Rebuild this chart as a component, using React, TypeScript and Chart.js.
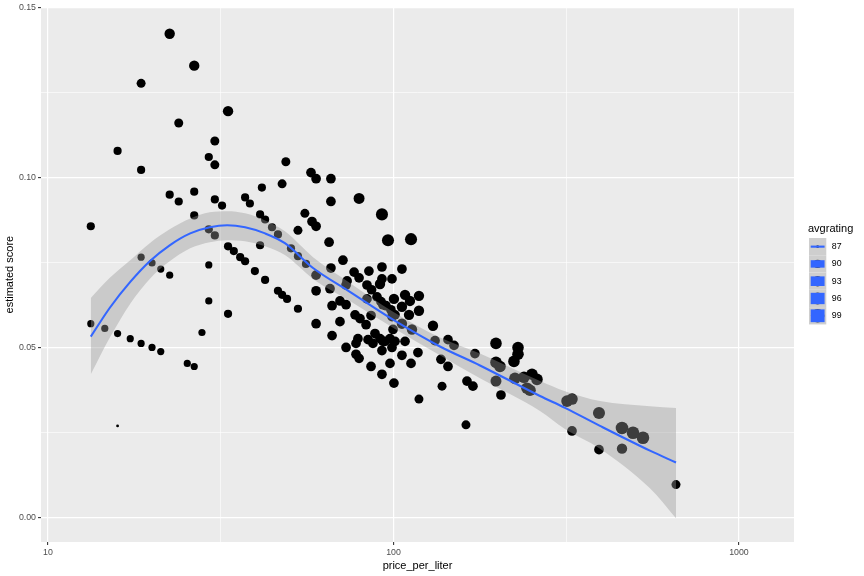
import React, { useEffect, useRef } from 'react';
import { Chart, registerables } from 'chart.js';

Chart.register(...registerables);

// ---------- data ----------
const price: number[] = [
  22.5, 26.5, 18.6, 33.2, 23.9, 30.4, 15.9, 29.2, 30.4, 18.6,
  48.8, 57.7, 59.7, 65.9, 47.6, 22.5, 23.9, 26.5, 30.4, 31.9,
  37.2, 38.4, 41.6, 65.9, 79.5, 92.6, 55.4, 58.1, 59.7, 52.9,
  13.3, 26.5, 29.2, 30.4, 41.1, 42.5, 44.5, 46.3, 41.1, 50.5,
  52.9, 55.8, 18.6, 20.0, 21.2, 22.5, 29.2, 33.2, 34.5, 36.0,
  37.2, 39.7, 42.5, 46.3, 47.6, 49.2, 52.9, 29.2, 33.2, 13.3,
  14.6, 15.9, 17.3, 18.6, 20.0, 21.2, 27.9, 25.3, 26.5, 15.9,
  65.1, 96.4, 112.4, 71.4, 65.9, 76.9, 79.5, 84.9, 92.6, 105.8,
  92.6, 99.0, 59.7, 73.4, 59.7, 65.5, 66.4, 70.0, 72.9, 72.9,
  59.7, 70.0, 66.4, 77.4, 80.0, 83.3, 86.1, 83.8, 83.8, 86.4,
  91.4, 89.6, 92.0, 95.1, 98.3, 101.0, 100.3, 108.0, 111.6, 118.5,
  105.8, 110.9, 118.5, 105.8, 113.1, 108.0, 99.7, 97.7, 101.0, 94.5,
  91.4, 88.4, 84.4, 78.9, 77.9, 72.9, 87.2, 92.6, 99.0, 77.9,
  79.5, 86.1, 97.7, 105.8, 112.4, 117.7, 92.6, 100.3, 118.5, 130.1,
  131.9, 138.2, 143.8, 149.7, 137.2, 143.8, 163.2, 169.8, 172.1, 162.1,
  198.0, 198.0, 203.4, 198.0, 204.7, 229.3, 229.3, 223.2, 224.7, 238.6,
  251.7, 260.2, 243.4, 248.4, 317.9, 328.6, 328.6, 393.4, 393.4, 458.6,
  458.6, 493.5, 527.4, 657.2, 93.2, 99.0, 93.2,
];

const score: number[] = [
  0.1424, 0.1330, 0.1278, 0.1196, 0.1161, 0.1108, 0.1079, 0.1061, 0.1038, 0.1023,
  0.1047, 0.1015, 0.0997, 0.0997, 0.0982, 0.0950, 0.0930, 0.0959, 0.0936, 0.0918,
  0.0942, 0.0924, 0.0971, 0.0930, 0.0939, 0.0892, 0.0895, 0.0871, 0.0857, 0.0845,
  0.0857, 0.0889, 0.0848, 0.0830, 0.0892, 0.0877, 0.0854, 0.0833, 0.0801, 0.0792,
  0.0769, 0.0746, 0.0766, 0.0749, 0.0731, 0.0713, 0.0743, 0.0798, 0.0784, 0.0766,
  0.0754, 0.0725, 0.0699, 0.0667, 0.0655, 0.0643, 0.0614, 0.0637, 0.0599, 0.0570,
  0.0556, 0.0541, 0.0526, 0.0512, 0.0500, 0.0488, 0.0544, 0.0453, 0.0444, 0.0269,
  0.0810, 0.0816, 0.0819, 0.0757, 0.0734, 0.0722, 0.0705, 0.0725, 0.0737, 0.0731,
  0.0702, 0.0702, 0.0713, 0.0696, 0.0667, 0.0673, 0.0623, 0.0637, 0.0626, 0.0684,
  0.0570, 0.0576, 0.0535, 0.0596, 0.0585, 0.0567, 0.0594, 0.0643, 0.0684, 0.0670,
  0.0687, 0.0649, 0.0635, 0.0623, 0.0611, 0.0596, 0.0643, 0.0655, 0.0637, 0.0652,
  0.0620, 0.0596, 0.0608, 0.0570, 0.0553, 0.0518, 0.0553, 0.0526, 0.0518, 0.0518,
  0.0526, 0.0541, 0.0523, 0.0526, 0.0512, 0.0500, 0.0512, 0.0491, 0.0500, 0.0480,
  0.0468, 0.0444, 0.0453, 0.0477, 0.0453, 0.0485, 0.0421, 0.0395, 0.0348, 0.0564,
  0.0520, 0.0386, 0.0523, 0.0506, 0.0465, 0.0444, 0.0401, 0.0386, 0.0482, 0.0272,
  0.0512, 0.0456, 0.0444, 0.0401, 0.0360, 0.0500, 0.0480, 0.0459, 0.0409, 0.0412,
  0.0421, 0.0406, 0.0380, 0.0374, 0.0342, 0.0348, 0.0254, 0.0307, 0.0199, 0.0202,
  0.0263, 0.0249, 0.0234, 0.0096, 0.0626, 0.0591, 0.0518,
];

const avgrating: number[] = [
  93, 93, 91, 93, 91, 91, 90, 90, 91, 90,
  91, 92, 92, 92, 91, 90, 90, 90, 90, 90,
  90, 90, 90, 92, 94, 96, 91, 92, 92, 91,
  90, 90, 90, 90, 90, 90, 90, 90, 90, 90,
  90, 90, 89, 89, 89, 89, 89, 90, 90, 90,
  90, 90, 90, 90, 90, 90, 90, 89, 90, 89,
  89, 89, 89, 89, 89, 89, 89, 89, 89, 87,
  92, 96, 96, 92, 92, 92, 92, 92, 92, 92,
  92, 92, 92, 92, 92, 92, 92, 92, 92, 92,
  92, 92, 92, 92, 92, 92, 92, 92, 92, 92,
  93, 92, 92, 92, 92, 92, 93, 93, 93, 93,
  93, 93, 93, 93, 93, 92, 92, 92, 92, 92,
  92, 92, 92, 92, 92, 92, 92, 92, 92, 92,
  92, 92, 92, 92, 92, 92, 92, 92, 91, 93,
  92, 91, 92, 92, 92, 92, 92, 92, 92, 91,
  95, 95, 95, 94, 92, 95, 95, 95, 95, 95,
  95, 95, 95, 95, 95, 95, 92, 96, 92, 93,
  97, 97, 97, 91, 92, 92, 92,
];

// smoother (fit and confidence band)
const smoothPrice: number[] = [13.3, 15.1, 17.3, 19.7, 22.5, 25.8, 29.4, 33.0, 37.2, 42.5, 48.5, 58.5, 74.8, 99.7, 136.3, 178.0, 265.5, 313.6, 396.0, 552.5, 657.2];
const smoothFit: number[] = [0.0532, 0.0617, 0.0693, 0.0754, 0.0801, 0.0836, 0.0854, 0.0860, 0.0854, 0.0836, 0.0807, 0.0734, 0.0664, 0.0582, 0.0503, 0.0447, 0.0357, 0.0322, 0.0269, 0.0196, 0.0161];
const smoothHi: number[] = [0.0646, 0.0705, 0.0757, 0.0807, 0.0848, 0.0880, 0.0898, 0.0901, 0.0895, 0.0874, 0.0842, 0.0766, 0.0690, 0.0605, 0.0529, 0.0482, 0.0401, 0.0371, 0.0342, 0.0327, 0.0322];
const smoothLo: number[] = [0.0421, 0.0529, 0.0629, 0.0702, 0.0754, 0.0792, 0.0810, 0.0816, 0.0813, 0.0798, 0.0772, 0.0702, 0.0637, 0.0558, 0.0477, 0.0409, 0.0313, 0.0260, 0.0202, 0.0085, -0.0003];

// axes
const yGridValues: number[] = [0, 0.025, 0.05, 0.075, 0.1, 0.125, 0.15];
const yLabelValues: number[] = [0, 0.05, 0.1, 0.15];
const xGridValues: number[] = [10, 31.6228, 100, 316.228, 1000];
const xLabelValues: number[] = [10, 100, 1000];
const legendBreaks: number[] = [87, 90, 93, 96, 99];
const ratingDomain: number[] = [87, 99];

const FONT = "'Liberation Sans', Arial, Helvetica, sans-serif";

const sizeOf = (v: number) => {
  const t = Math.max(0, Math.min(1, (v - ratingDomain[0]) / (ratingDomain[1] - ratingDomain[0])));
  return 1 + 5 * Math.sqrt(t);
};
const radiusOf = (v: number) => 1.067 * sizeOf(v) + 0.354;
const lineWidthOf = (v: number) => 2.13 * sizeOf(v);

const isOn = (v: number, list: number[]) => list.some((u) => Math.abs(u - v) / Math.max(1e-9, Math.abs(u) || 1) < 1e-4 || Math.abs(u - v) < 1e-9);

const panelBg = {
  id: 'panelBg',
  beforeDraw(chart: any) {
    const { ctx, chartArea } = chart;
    ctx.save();
    ctx.fillStyle = '#EBEBEB';
    ctx.fillRect(chartArea.left, chartArea.top, chartArea.right - chartArea.left, chartArea.bottom - chartArea.top);
    ctx.restore();
  },
};

const sizeLegend = {
  id: 'sizeLegend',
  afterDraw(chart: any) {
    const { ctx } = chart;
    const x0 = 809;
    const y0 = 238;
    const k = 17.28;
    ctx.save();
    ctx.fillStyle = '#000000';
    ctx.font = `11px ${FONT}`;
    ctx.textBaseline = 'middle';
    ctx.textAlign = 'left';
    ctx.fillText('avgrating', 808, 229);
    legendBreaks.forEach((b, i) => {
      const top = y0 + i * k;
      const cy = top + k / 2;
      const cx = x0 + k / 2;
      ctx.fillStyle = '#F2F2F2';
      ctx.fillRect(x0, top, k, k);
      ctx.fillStyle = '#000000';
      ctx.beginPath();
      ctx.arc(cx, cy, radiusOf(b), 0, Math.PI * 2);
      ctx.fill();
      ctx.fillStyle = 'rgba(153,153,153,0.4)';
      ctx.fillRect(x0, top, k, k);
      ctx.strokeStyle = '#3366FF';
      ctx.lineWidth = lineWidthOf(b);
      ctx.lineCap = 'butt';
      ctx.beginPath();
      ctx.moveTo(x0 + 1.7, cy);
      ctx.lineTo(x0 + k - 1.7, cy);
      ctx.stroke();
      ctx.fillStyle = '#000000';
      ctx.font = `8.8px ${FONT}`;
      ctx.fillText(String(b), x0 + k + 5.5, cy);
    });
    ctx.restore();
  },
};

export default function App() {
  const ref = useRef<HTMLCanvasElement | null>(null);

  useEffect(() => {
    if (!ref.current) return;
    const xMajor = (v: number) => Math.abs(Math.log10(v) - Math.round(Math.log10(v))) < 1e-6;
    const yMajor = (v: number) => isOn(v, yLabelValues);

    const chart = new Chart(ref.current, {
      type: 'scatter',
      data: {
        datasets: [
          {
            type: 'line',
            label: 'fit',
            data: smoothPrice.map((x, i) => ({ x, y: smoothFit[i] })),
            borderColor: '#3366FF',
            borderWidth: 2.1,
            pointRadius: 0,
            fill: false,
            showLine: true,
            cubicInterpolationMode: 'monotone',
            order: 0,
          },
          {
            type: 'line',
            label: 'lower',
            data: smoothPrice.map((x, i) => ({ x, y: smoothLo[i] })),
            borderColor: 'rgba(0,0,0,0)',
            borderWidth: 0,
            pointRadius: 0,
            fill: false,
            showLine: true,
            cubicInterpolationMode: 'monotone',
            order: 1,
          },
          {
            type: 'line',
            label: 'upper',
            data: smoothPrice.map((x, i) => ({ x, y: smoothHi[i] })),
            borderColor: 'rgba(0,0,0,0)',
            backgroundColor: 'rgba(153,153,153,0.4)',
            borderWidth: 0,
            pointRadius: 0,
            fill: 1,
            showLine: true,
            cubicInterpolationMode: 'monotone',
            order: 1,
          },
          {
            type: 'scatter',
            label: 'points',
            data: price.map((x, i) => ({ x, y: score[i] })),
            pointRadius: (c: any) => radiusOf(avgrating[c.dataIndex]),
            pointBackgroundColor: '#000000',
            pointBorderColor: '#000000',
            pointBorderWidth: 0,
            order: 2,
          },
        ] as any,
      },
      options: {
        responsive: false,
        maintainAspectRatio: false,
        animation: false,
        devicePixelRatio: 1,
        events: [],
        layout: { padding: { left: 0, right: 70, top: 5, bottom: 0 } },
        plugins: { legend: { display: false }, tooltip: { enabled: false } },
        scales: {
          x: {
            type: 'logarithmic',
            position: 'bottom',
            min: 9.544,
            max: 1443,
            afterBuildTicks: (s: any) => {
              s.ticks = xGridValues.map((v) => ({ value: v }));
            },
            afterFit: (s: any) => {
              s.height = 34;
            },
            border: { display: false },
            grid: {
              color: '#FFFFFF',
              lineWidth: (c: any) => (xMajor(c.tick.value) ? 1.2 : 0.6),
              drawTicks: true,
              tickLength: 3,
              tickWidth: 1.07,
              tickColor: (c: any) => (xMajor(c.tick.value) ? '#333333' : 'rgba(0,0,0,0)'),
            },
            ticks: {
              autoSkip: false,
              maxRotation: 0,
              minRotation: 0,
              padding: 2,
              color: '#4D4D4D',
              font: { family: FONT, size: 8.8 },
              major: { enabled: false },
              callback: (v: any) => (isOn(Number(v), xLabelValues) ? String(Math.round(Number(v))) : ''),
            },
            title: {
              display: true,
              text: 'price_per_liter',
              color: '#000000',
              font: { family: FONT, size: 11, lineHeight: 1.2 },
              padding: { top: 0, bottom: 3.4 },
            },
          },
          y: {
            type: 'linear',
            position: 'left',
            min: -0.0073,
            max: 0.1502,
            afterBuildTicks: (s: any) => {
              s.ticks = yGridValues.map((v) => ({ value: v }));
            },
            afterFit: (s: any) => {
              s.width = 41;
            },
            border: { display: false },
            grid: {
              color: '#FFFFFF',
              lineWidth: (c: any) => (yMajor(c.tick.value) ? 1.2 : 0.6),
              drawTicks: true,
              tickLength: 3,
              tickWidth: 1.07,
              tickColor: (c: any) => (yMajor(c.tick.value) ? '#333333' : 'rgba(0,0,0,0)'),
            },
            ticks: {
              autoSkip: false,
              padding: 2,
              color: '#4D4D4D',
              font: { family: FONT, size: 8.8 },
              callback: (v: any) => (yMajor(Number(v)) ? Number(v).toFixed(2) : ''),
            },
            title: {
              display: true,
              text: 'estimated score',
              color: '#000000',
              font: { family: FONT, size: 11, lineHeight: 1.2 },
              padding: { top: 3.4, bottom: 0 },
            },
          },
        },
      } as any,
      plugins: [panelBg, sizeLegend],
    });
    return () => chart.destroy();
  }, []);

  return (
    <div style={{ position: 'fixed', left: 0, top: 0, width: 864, height: 576, background: '#FFFFFF' }}>
      <canvas ref={ref} width={864} height={576} style={{ width: 864, height: 576, display: 'block' }} />
    </div>
  );
}
